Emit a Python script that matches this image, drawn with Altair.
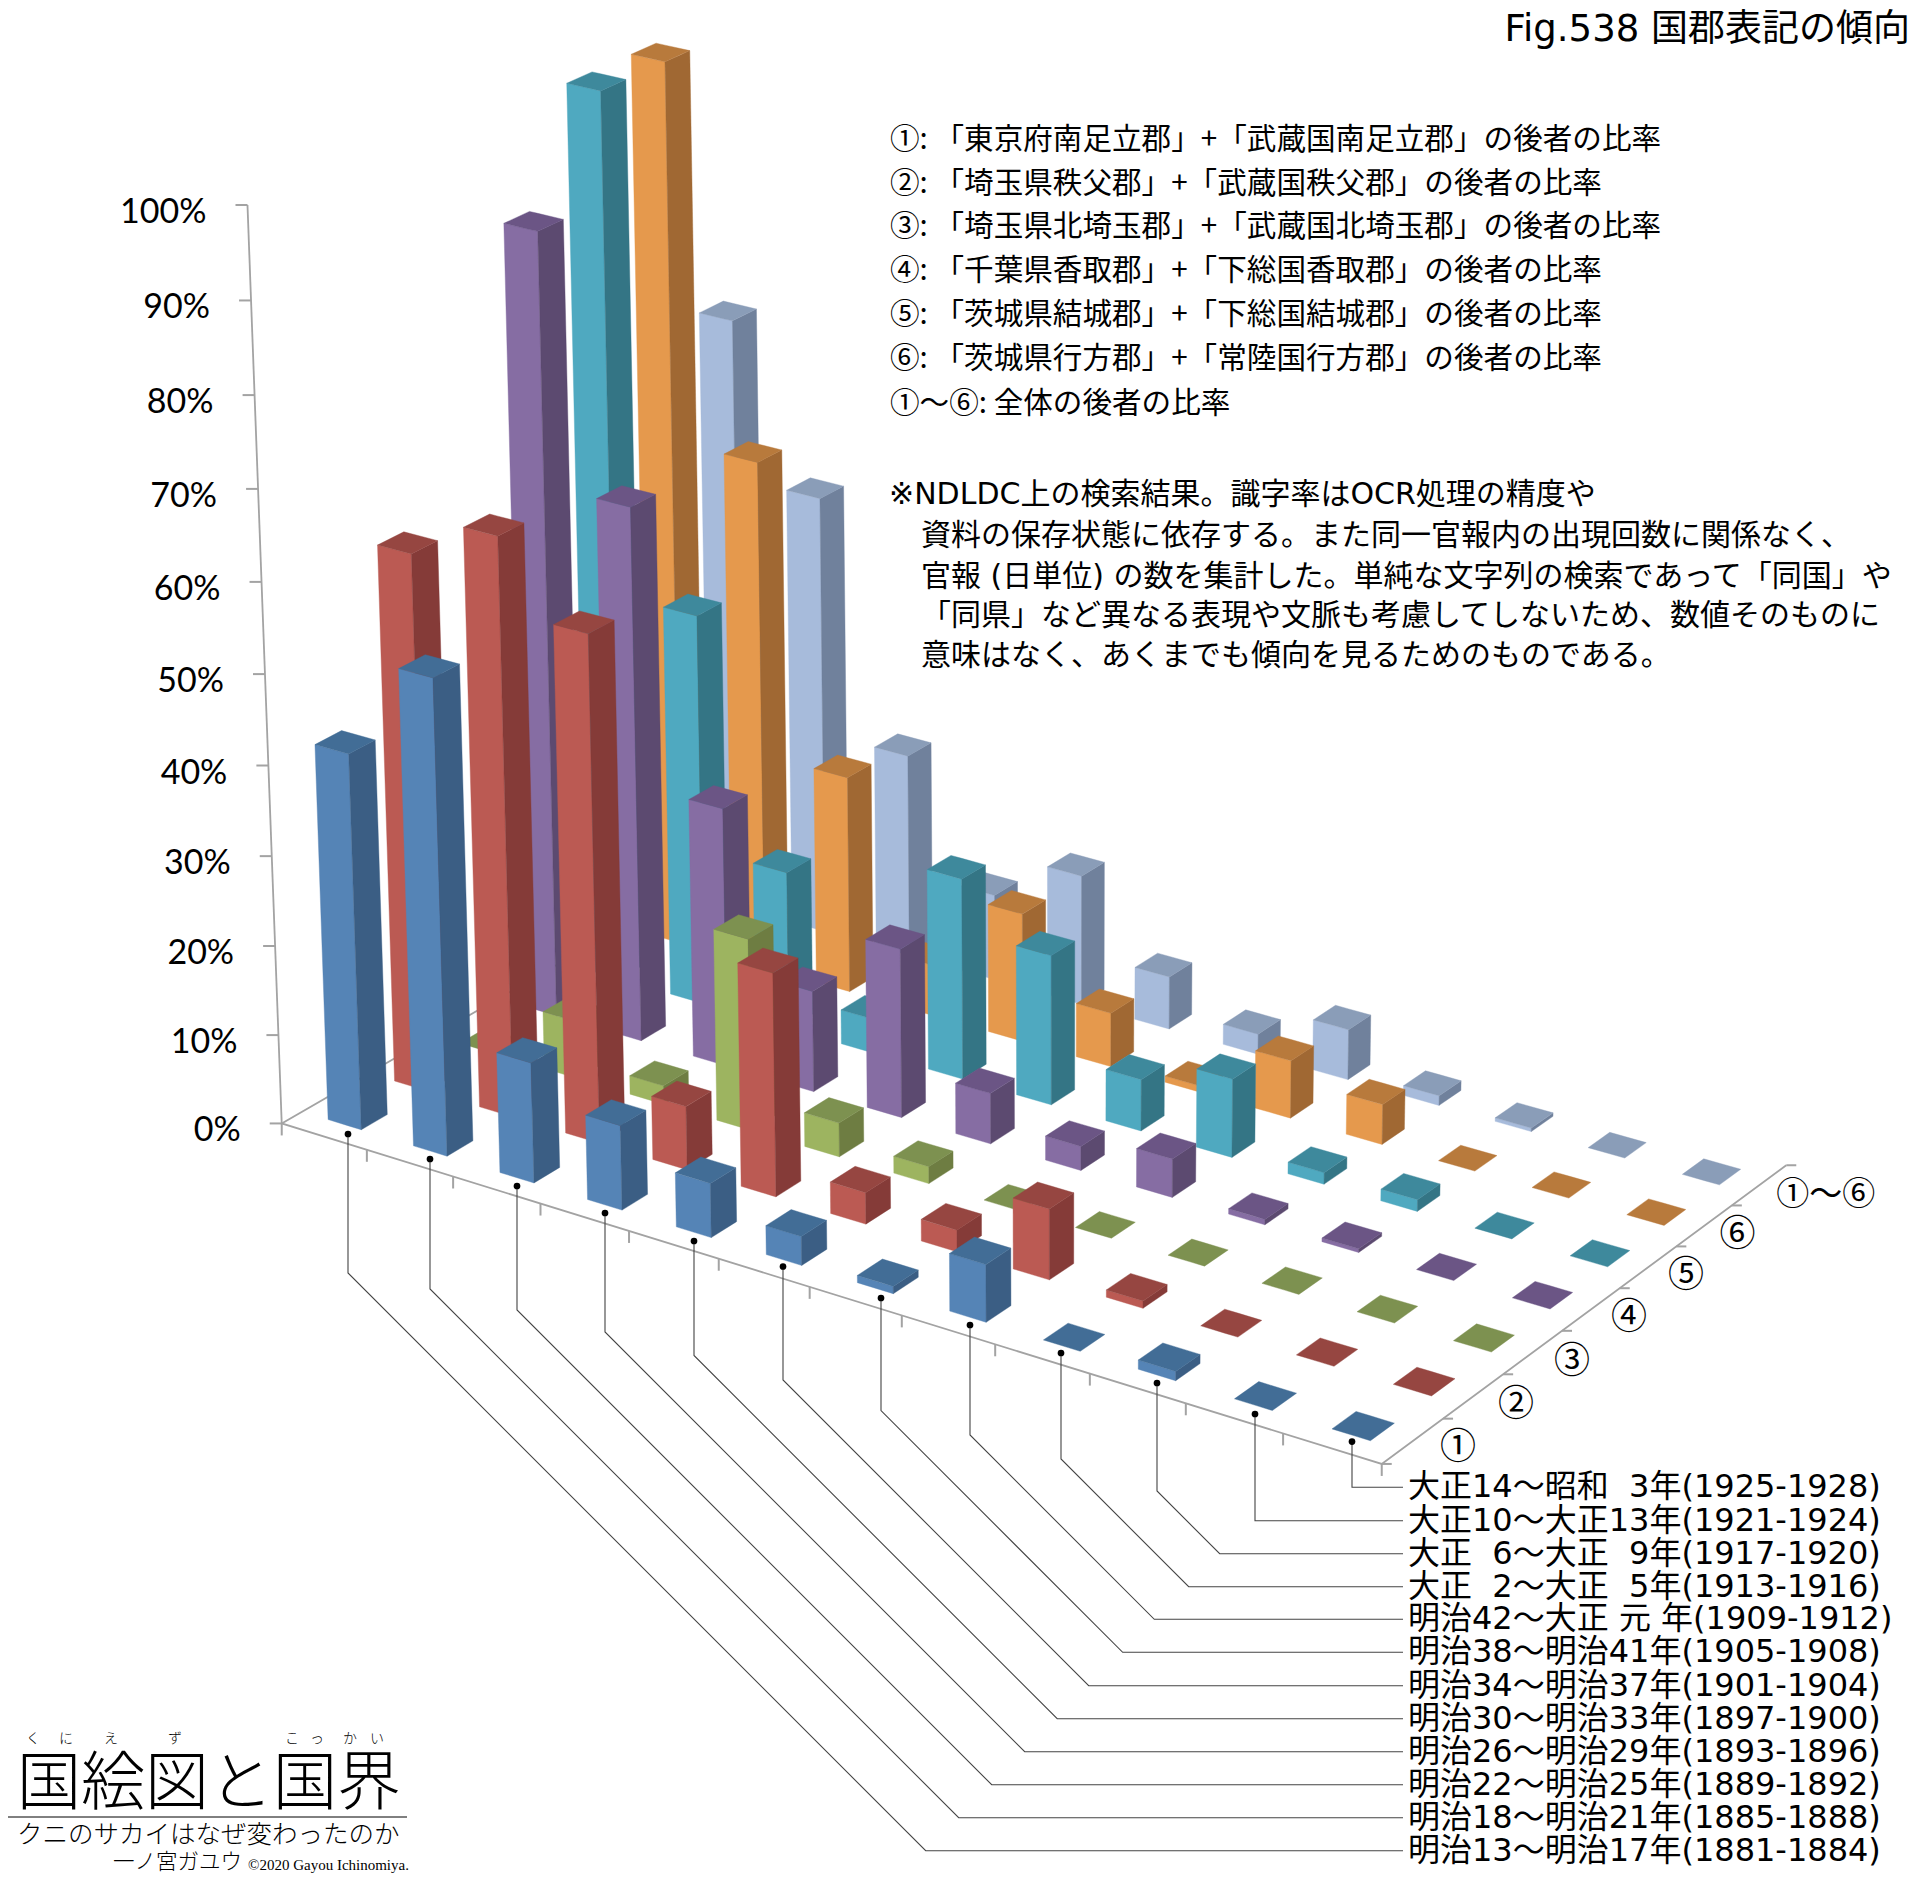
import altair as alt
import pandas as pd
import numpy as np

# ---------------- data ----------------
PERIODS = ["明治13〜明治17年(1881-1884)", "明治18〜明治21年(1885-1888)", "明治22〜明治25年(1889-1892)",
           "明治26〜明治29年(1893-1896)", "明治30〜明治33年(1897-1900)", "明治34〜明治37年(1901-1904)",
           "明治38〜明治41年(1905-1908)", "明治42〜大正 元 年(1909-1912)",
           "大正\u00a0\u00a02〜大正\u00a0\u00a05年(1913-1916)", "大正\u00a0\u00a06〜大正\u00a0\u00a09年(1917-1920)",
           "大正10〜大正13年(1921-1924)", "大正14〜昭和\u00a0\u00a03年(1925-1928)"]
SERIES = ["①", "②", "③", "④", "⑤", "⑥", "①〜⑥"]
V1 = [41.9, 52.8, 13.4, 9.4, 6.0, 3.2, 0.8, 6.3, 0, 1.0, 0, 0]
V2 = [59.9, 64.3, 56.3, 7.1, 24.8, 3.5, 2.4, 7.8, 0.8, 0, 0, 0]
V3 = [0, 6.5, 2.1, 21.5, 3.8, 1.9, 0, 0, 0, 0, 0, 0]
V4 = [87.8, 60.1, 29.2, 11.4, 19.0, 5.7, 2.7, 4.3, 0.6, 0.4, 0, 0]
V5 = [99.7, 44.3, 17.9, 3.9, 22.7, 16.9, 5.8, 8.8, 1.3, 1.3, 0, 0]
V6 = [99.7, 57.8, 24.7, 5.8, 14.6, 6.1, 0.7, 6.5, 4.5, 0, 0, 0]
V7 = [67.8, 50.1, 23.2, 9.8, 14.8, 6.0, 2.3, 5.7, 1.1, 0.4, 0, 0]
VALUES = [V1, V2, V3, V4, V5, V6, V7]
Y_TICKS = [0, 10, 20, 30, 40, 50, 60, 70, 80, 90, 100]

# face colours: front, side, top
BLUE = ("#5584B6", "#3B5E84", "#426D96")
RED = ("#BB5A53", "#853B38", "#964641")
GREEN = ("#9DB460", "#6E7D42", "#7D9150")
PURPLE = ("#866DA3", "#5C4A70", "#6B5585")
TEAL = ("#4FA9C0", "#347585", "#3E899C")
ORANGE = ("#E5994D", "#A06833", "#B87A3C")
LIGHT = ("#A7BBDB", "#70819C", "#8A9DB8")
PALETTE = [BLUE, RED, GREEN, PURPLE, TEAL, ORANGE, LIGHT]

# ---------------- camera (floor homography + vertical vanishing point) ----------------
H = [82.78594872499343, 70.27551290239118, 281.7242234679152,
     18.96499428457717, -28.325785524103612, 1123.4357783981552,
     -0.006428007035024628, 0.009485163344279526]
VANISH = (1060.0, 22000.0)
S = -0.04214


def project(u, v, pct=0.0):
    z = pct / 100.0
    w = H[6] * u + H[7] * v + 1 + S * z
    return ((H[0] * u + H[1] * v + H[2] + S * VANISH[0] * z) / w,
            (H[3] * u + H[4] * v + H[5] + S * VANISH[1] * z) / w)


def polygon_rows(pts, fid, colour):
    """Turn a convex polygon into x / y / y2 rows for an area mark."""
    n = len(pts)
    rows = []
    for x in sorted({round(p[0], 2) for p in pts}):
        ys = []
        for i in range(n):
            (x0, y0), (x1, y1) = pts[i], pts[(i + 1) % n]
            lo, hi = min(x0, x1) - 0.006, max(x0, x1) + 0.006
            if lo <= x <= hi:
                if abs(x1 - x0) < 1e-6:
                    ys += [y0, y1]
                else:
                    t = min(1, max(0, (x - x0) / (x1 - x0)))
                    ys.append(y0 + t * (y1 - y0))
        rows.append({"id": fid, "x": x, "y": min(ys), "y2": max(ys), "c": colour})
    return rows


HALF = 0.195
face_rows = []
n_face = 0
for r in range(6, -1, -1):
    for c in range(12):
        val = VALUES[r][c]
        u0, u1, v0, v1 = c + .5 - HALF, c + .5 + HALF, r + .5 - HALF, r + .5 + HALF
        front, side, top = PALETTE[r]
        faces = []
        if val > 0:
            faces.append(([project(u0, v0), project(u1, v0), project(u1, v0, val), project(u0, v0, val)], front))
            faces.append(([project(u1, v0), project(u1, v1), project(u1, v1, val), project(u1, v0, val)], side))
        faces.append(([project(u0, v0, val), project(u1, v0, val), project(u1, v1, val), project(u0, v1, val)], top))
        for pts, col in faces:
            face_rows += polygon_rows(pts, "f%04d" % n_face, col)
            n_face += 1
faces_df = pd.DataFrame(face_rows)

# ---------------- scales ----------------
xs = alt.Scale(domain=[8, 1912], nice=False, zero=False)
ys = alt.Scale(domain=[1878, 8], nice=False, zero=False)
X = alt.X("x:Q", scale=xs, axis=None)
Y = alt.Y("y:Q", scale=ys, axis=None)


def polyline(paths):
    rows = []
    for k, path in enumerate(paths):
        for i, (x, y) in enumerate(path):
            rows.append({"id": "p%03d" % k, "i": i, "x": x, "y": y})
    return pd.DataFrame(rows)


def lines(paths, colour, width):
    return alt.Chart(polyline(paths)).mark_line(color=colour, strokeWidth=width, clip=False).encode(
        x=X, y=Y, detail="id:N", order="i:Q")


# axes
AXIS_GREY = "#A3A3A3"
axis_paths = [
    [project(0, 0, 0), project(0, 0, 100)],
    [project(0, 7), project(0, 0), project(12, 0), project(12, 7)],
]
tick_paths = []
for t in Y_TICKS:
    p = project(0, 0, t)
    tick_paths.append([p, (p[0] - 12, p[1])])
for i in range(13):
    p = project(i, 0)
    tick_paths.append([p, (p[0], p[1] + 12)])
for j in range(8):
    p = project(12, j)
    tick_paths.append([p, (p[0] + 10, p[1])])

# leaders
DOT_X = [348, 430, 517, 605, 694, 783, 881, 970, 1061, 1157, 1255, 1352]
DOT_Y = [1134, 1159, 1186, 1213, 1241, 1266.5, 1298, 1325, 1353, 1383, 1414, 1441.6]
ELBOW_Y = [1273, 1289, 1310, 1332, 1355.5, 1380, 1410.6, 1435, 1459, 1491, 1520.7, 1487.3]
LABEL_Y = [1850.7, 1817.7, 1784.7, 1751.7, 1718.7, 1685.7, 1652.3, 1619.3, 1586.7, 1553.7, 1520.7, 1487.3]
LABEL_END = 1403
leader_paths = []
for dx, dy, ey, ly in zip(DOT_X, DOT_Y, ELBOW_Y, LABEL_Y):
    leader_paths.append([(dx, dy), (dx, ey), (dx + (ly - ey), ly), (LABEL_END, ly)])


def text_layer(rows, font, align="left", colour="#000000", weight=400):
    df = pd.DataFrame(rows, columns=["x", "y", "t", "s"])
    return alt.Chart(df).mark_text(font=font, align=align, baseline="middle", color=colour,
                                   fontWeight=weight, clip=False).encode(
        x=X, y=Y, text="t:N", size=alt.Size("s:Q", scale=None))


JP = "Noto Sans CJK JP"
MIX = "DejaVu Sans, Noto Sans CJK JP"

pct_rows = []
for t in Y_TICKS:
    p = project(0, 0, t)
    pct_rows.append((p[0] - 41, p[1] + 8, "%d%%" % t, 34))

SERIES_POS = [(1458, 1448), (1516, 1405), (1572, 1362), (1629, 1318), (1686, 1276), (1737.5, 1235), (1825.7, 1195)]
SERIES_SIZE = [36, 36, 36, 36, 36, 36, 33]
series_rows = [(x, y, s, z) for (x, y), s, z in zip(SERIES_POS, SERIES, SERIES_SIZE)]

period_rows = [(1408, ly, p, 32) for ly, p in zip(LABEL_Y, PERIODS)]

LEGEND = ["①: 「東京府南足立郡」+「武蔵国南足立郡」の後者の比率",
          "②: 「埼玉県秩父郡」+「武蔵国秩父郡」の後者の比率",
          "③: 「埼玉県北埼玉郡」+「武蔵国北埼玉郡」の後者の比率",
          "④: 「千葉県香取郡」+「下総国香取郡」の後者の比率",
          "⑤: 「茨城県結城郡」+「下総国結城郡」の後者の比率",
          "⑥: 「茨城県行方郡」+「常陸国行方郡」の後者の比率",
          "①〜⑥: 全体の後者の比率"]
LEGEND_Y = [140, 184, 227, 271, 315, 359, 404]
legend_rows = [(890, y, t, 29.6) for y, t in zip(LEGEND_Y, LEGEND)]

NOTE = ["※NDLDC上の検索結果。識字率はOCR処理の精度や",
        "資料の保存状態に依存する。また同一官報内の出現回数に関係なく、",
        "官報 (日単位) の数を集計した。単純な文字列の検索であって「同国」や",
        "「同県」など異なる表現や文脈も考慮してしないため、数値そのものに",
        "意味はなく、あくまでも傾向を見るためのものである。"]
NOTE_X = [889, 921, 921, 921, 921]
NOTE_Y = [495, 536, 577, 616, 656]
note_rows = [(x, y, t, 30) for x, y, t in zip(NOTE_X, NOTE_Y, NOTE)]

title_rows = [(1910, 30, "Fig.538 国郡表記の傾向", 37)]

logo_rows = [(17, 1785, "国絵図と国界", 64),
             (17, 1835, "クニのサカイはなぜ変わったのか", 25.5),
             (113, 1863, "一ノ宮ガユウ", 21.5)]
RUBY = [(33, "く"), (66, "に"), (111, "え"), (175, "ず"), (292, "こ"), (317, "っ"), (350, "か"), (377, "い")]
ruby_rows = [(x, 1739, t, 14) for x, t in RUBY]
copy_rows = [(248, 1865, "©2020 Gayou Ichinomiya.", 15)]

dots = pd.DataFrame({"x": DOT_X, "y": DOT_Y})

faces_layer = alt.Chart(faces_df).mark_area(strokeWidth=0.4, interpolate="linear", clip=False).encode(
    x=X, y=Y, y2="y2:Q", detail="id:N",
    color=alt.Color("c:N", scale=None), stroke=alt.Stroke("c:N", scale=None))

chart = alt.layer(
    lines(axis_paths, AXIS_GREY, 1.8),
    lines(tick_paths, AXIS_GREY, 2),
    faces_layer,
    lines(leader_paths, "#444444", 1.1),
    alt.Chart(dots).mark_circle(color="#000000", size=45, opacity=1, clip=False).encode(x=X, y=Y),
    text_layer(pct_rows, "Lato", "right"),
    text_layer(series_rows, JP, "center"),
    text_layer(period_rows, MIX),
    text_layer(legend_rows, JP),
    text_layer(note_rows, MIX),
    text_layer(title_rows, MIX, "right"),
    text_layer(logo_rows, JP, weight=300),
    text_layer(ruby_rows, JP, "center", weight=300),
    text_layer(copy_rows, "Liberation Serif"),
    lines([[(3, 1817), (407, 1817)]], "#000000", 1),
).properties(width=1904, height=1870, padding=0, autosize="none",
             background="white").configure_view(stroke=None)

chart.save("out.html", embed_options={"renderer": "svg", "actions": False})
